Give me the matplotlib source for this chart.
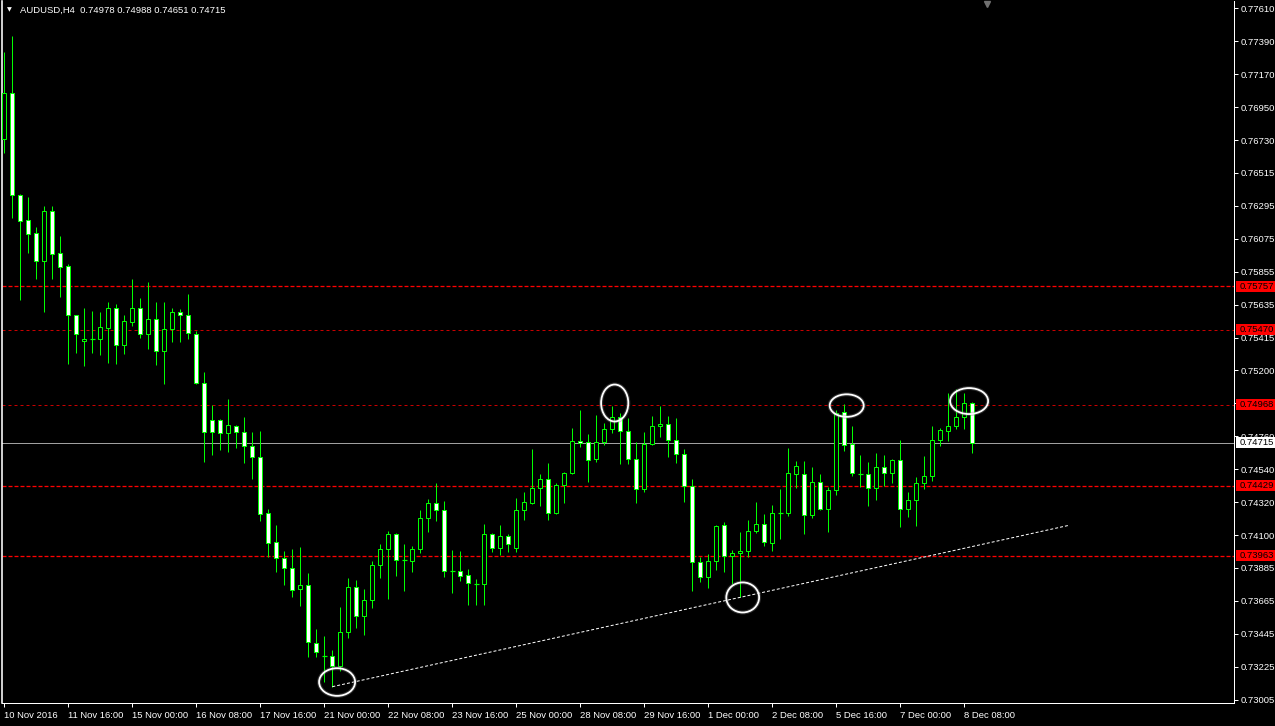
import matplotlib
matplotlib.use('Agg')
import matplotlib.pyplot as plt
import matplotlib.transforms as mtransforms
from matplotlib.patches import Ellipse, Rectangle
import numpy as np

# ---------------- data (AUDUSD H4) ----------------
opens = [0.76736, 0.77042, 0.76364, 0.76197, 0.76111, 0.75928, 0.76257, 0.75978, 0.75891, 0.75565,
         0.75392, 0.75405, 0.75405, 0.75482, 0.75611, 0.75365, 0.75522, 0.75611, 0.75438, 0.75538,
         0.75325, 0.75472, 0.75585, 0.75565, 0.75438, 0.75112, 0.74866, 0.74866, 0.74779, 0.74826,
         0.74786, 0.74693, 0.74620, 0.74247, 0.74054, 0.73947, 0.73881, 0.73741, 0.73768, 0.73382,
         0.73295, 0.73295, 0.73233, 0.73455, 0.73754, 0.73561, 0.73668, 0.73901, 0.74011, 0.74107,
         0.73934, 0.73927, 0.74007, 0.74214, 0.74314, 0.74267, 0.73861, 0.73861, 0.73834, 0.73778,
         0.73774, 0.74107, 0.74016, 0.74096, 0.74016, 0.74267, 0.74314, 0.74413, 0.74473, 0.74247,
         0.74437, 0.74513, 0.74726, 0.74720, 0.74606, 0.74720, 0.74806, 0.74886, 0.74793, 0.74606,
         0.74407, 0.74706, 0.74826, 0.74839, 0.74733, 0.74640, 0.74431, 0.73921, 0.73825, 0.73927,
         0.74167, 0.73961, 0.73981, 0.73994, 0.74127, 0.74174, 0.74047, 0.74247, 0.74247, 0.74507,
         0.74507, 0.74234, 0.74453, 0.74274, 0.74400, 0.74919, 0.74706, 0.74507, 0.74507, 0.74413,
         0.74553, 0.74513, 0.74600, 0.74274, 0.74333, 0.74447, 0.74493, 0.74733, 0.74793, 0.74826,
         0.74886, 0.74978]
highs = [0.77319, 0.77424, 0.76370, 0.76352, 0.76153, 0.76292, 0.76292, 0.76093, 0.75906, 0.75570,
         0.75613, 0.75593, 0.75585, 0.75653, 0.75640, 0.75567, 0.75806, 0.75680, 0.75786, 0.75653,
         0.75653, 0.75613, 0.75607, 0.75707, 0.75460, 0.75187, 0.74968, 0.74875, 0.75008, 0.74835,
         0.74888, 0.74786, 0.74793, 0.74274, 0.74167, 0.73994, 0.74007, 0.74021, 0.73848, 0.73475,
         0.73428, 0.73335, 0.73621, 0.73814, 0.73801, 0.73741, 0.73927, 0.74041, 0.74127, 0.74114,
         0.74041, 0.74027, 0.74267, 0.74340, 0.74447, 0.74327, 0.74001, 0.73994, 0.73874, 0.73808,
         0.74174, 0.74116, 0.74169, 0.74109, 0.74347, 0.74387, 0.74675, 0.74507, 0.74580, 0.74447,
         0.74520, 0.74813, 0.74933, 0.74773, 0.74899, 0.74848, 0.74961, 0.74913, 0.74881, 0.74720,
         0.74786, 0.74895, 0.74961, 0.74893, 0.74881, 0.74673, 0.74473, 0.73958, 0.73976, 0.74169,
         0.74187, 0.74001, 0.74120, 0.74200, 0.74320, 0.74240, 0.74300, 0.74407, 0.74680, 0.74597,
         0.74595, 0.74553, 0.74507, 0.74420, 0.74933, 0.74972, 0.74826, 0.74633, 0.74586, 0.74646,
         0.74633, 0.74606, 0.74733, 0.74387, 0.74487, 0.74626, 0.74826, 0.74813, 0.75046, 0.75072,
         0.75046, 0.74988]
lows = [0.76647, 0.76214, 0.75667, 0.75981, 0.75806, 0.75589, 0.75806, 0.75689, 0.75241, 0.75316,
        0.75229, 0.75316, 0.75301, 0.75249, 0.75241, 0.75307, 0.75496, 0.75414, 0.75341, 0.75234,
        0.75108, 0.75387, 0.75387, 0.75407, 0.75108, 0.74588, 0.74635, 0.74668, 0.74655, 0.74682,
        0.74582, 0.74475, 0.74198, 0.73958, 0.73858, 0.73772, 0.73692, 0.73632, 0.73292, 0.73292,
        0.73126, 0.73093, 0.73199, 0.73419, 0.73485, 0.73439, 0.73619, 0.73818, 0.73679, 0.73832,
        0.73732, 0.73858, 0.73985, 0.74124, 0.74194, 0.73821, 0.73718, 0.73794, 0.73635, 0.73639,
        0.73635, 0.73989, 0.73969, 0.73990, 0.73990, 0.74202, 0.74307, 0.74298, 0.74204, 0.74244,
        0.74318, 0.74507, 0.74686, 0.74457, 0.74586, 0.74700, 0.74779, 0.74573, 0.74573, 0.74314,
        0.74387, 0.74704, 0.74753, 0.74620, 0.74580, 0.74324, 0.73732, 0.73792, 0.73752, 0.73872,
        0.73858, 0.73776, 0.73688, 0.73954, 0.74114, 0.74031, 0.73998, 0.74078, 0.74231, 0.74417,
        0.74111, 0.74218, 0.74270, 0.74124, 0.74367, 0.74660, 0.74497, 0.74424, 0.74298, 0.74337,
        0.74431, 0.74451, 0.74158, 0.74224, 0.74164, 0.74411, 0.74460, 0.74693, 0.74726, 0.74806,
        0.74806, 0.74651]
closes = [0.77042, 0.76364, 0.76195, 0.76108, 0.75928, 0.76257, 0.75975, 0.75888, 0.75565, 0.75438,
          0.75405, 0.75405, 0.75485, 0.75611, 0.75365, 0.75525, 0.75611, 0.75438, 0.75538, 0.75325,
          0.75472, 0.75585, 0.75565, 0.75445, 0.75112, 0.74790, 0.74786, 0.74779, 0.74833, 0.74786,
          0.74693, 0.74620, 0.74244, 0.74051, 0.73947, 0.73881, 0.73734, 0.73768, 0.73388, 0.73322,
          0.73295, 0.73233, 0.73455, 0.73754, 0.73561, 0.73668, 0.73901, 0.74007, 0.74107, 0.73934,
          0.73934, 0.74007, 0.74214, 0.74314, 0.74267, 0.73861, 0.73861, 0.73828, 0.73781, 0.73778,
          0.74107, 0.74016, 0.74096, 0.74040, 0.74267, 0.74320, 0.74413, 0.74473, 0.74247, 0.74433,
          0.74513, 0.74726, 0.74713, 0.74600, 0.74720, 0.74806, 0.74886, 0.74793, 0.74606, 0.74407,
          0.74706, 0.74826, 0.74839, 0.74733, 0.74640, 0.74431, 0.73921, 0.73821, 0.73927, 0.74160,
          0.73961, 0.73981, 0.73994, 0.74127, 0.74174, 0.74054, 0.74247, 0.74247, 0.74513, 0.74560,
          0.74234, 0.74453, 0.74274, 0.74400, 0.74913, 0.74700, 0.74513, 0.74507, 0.74413, 0.74553,
          0.74513, 0.74600, 0.74274, 0.74333, 0.74447, 0.74493, 0.74733, 0.74799, 0.74826, 0.74886,
          0.74979, 0.74715]

x_tick_labels = ['10 Nov 2016', '11 Nov 16:00', '15 Nov 00:00', '16 Nov 08:00', '17 Nov 16:00',
                 '21 Nov 00:00', '22 Nov 08:00', '23 Nov 16:00', '25 Nov 00:00', '28 Nov 08:00',
                 '29 Nov 16:00', '1 Dec 00:00', '2 Dec 08:00', '5 Dec 16:00', '7 Dec 00:00',
                 '8 Dec 08:00']
y_tick_values = [0.77610, 0.77390, 0.77170, 0.76950, 0.76730, 0.76515, 0.76295, 0.76075, 0.75855,
                 0.75635, 0.75415, 0.75200, 0.74980, 0.74760, 0.74540, 0.74320, 0.74100, 0.73885,
                 0.73665, 0.73445, 0.73225, 0.73005]

main_levels = [0.75757, 0.74429, 0.73963]
minor_levels = [0.75470, 0.74968]
current_price = 0.74715
header = 'AUDUSD,H4  0.74978 0.74988 0.74651 0.74715'

trend_bars = [41, 133]
trend_prices = [0.73093, 0.74166]

# ellipses: (bar centre, price centre, width in bars, height in price)
ellipse_bar = [41.6, 76.3, 105.3, 120.6, 92.3]
ellipse_price = [0.73124, 0.74981, 0.74964, 0.74994, 0.73687]
ellipse_w = [4.5, 3.4, 4.25, 4.75, 4.1]
ellipse_h = [0.00184, 0.00246, 0.00150, 0.00173, 0.00200]

# ---------------- figure ----------------
plt.rcParams['lines.scale_dashes'] = False
plt.rcParams['font.family'] = ['Liberation Sans', 'DejaVu Sans']

W, H = 1275, 726
PX = 72 / 100.0
fig = plt.figure(figsize=(W / 100, H / 100), dpi=100, facecolor='black')
L_px, R_px, T_px, B_px = 2, 1234, 1, 703
ax = fig.add_axes([L_px / W, 1 - B_px / H, (R_px - L_px) / W, (B_px - T_px) / H])
ax.set_facecolor('black')

GREEN = '#00ff00'
n = len(opens)
xs = np.arange(n)

# wicks
ax.vlines(xs, lows, highs, colors=GREEN, lw=PX, zorder=3)
# bodies
for i in range(n):
    o, c = opens[i], closes[i]
    if abs(c - o) < 1e-6:
        ax.hlines(o, i - 0.3, i + 0.3, colors=GREEN, lw=PX * 1.2, zorder=4)
    else:
        fc = 'black' if c > o else 'white'
        ax.bar(i, abs(c - o), bottom=min(o, c), width=0.5, facecolor=fc,
               edgecolor=GREEN, lw=PX, zorder=4)

ax.set_xlim((L_px - 4.3) / 8, (R_px - 4.3) / 8)
y_top = 0.75855 + (271.7 - T_px) / 15025
y_bot = 0.75855 - (B_px - 271.7) / 15025
ax.set_ylim(y_bot, y_top)

# level lines
for lev in main_levels:
    ax.axhline(lev, color='#ff0000', lw=1.3 * PX, dashes=(4 * PX, 2 * PX), zorder=2)
for lev in minor_levels:
    ax.axhline(lev, color='#c80000', lw=PX, dashes=(3 * PX, 3 * PX), zorder=2)
ax.axhline(current_price, color='#a0a0a0', lw=PX, zorder=2)

# trendline
ax.plot(trend_bars, trend_prices, color='white', lw=PX, dashes=(3 * PX, 2 * PX), zorder=5)

# ellipses
for bx, by, bw, bh in zip(ellipse_bar, ellipse_price, ellipse_w, ellipse_h):
    ax.add_patch(Ellipse((bx, by), bw, bh, fill=False, ec='#808080', lw=4 * PX, alpha=0.35, zorder=6))
    ax.add_patch(Ellipse((bx, by), bw, bh, fill=False, ec='white', lw=1.8 * PX, zorder=7))

# axes styling
ax.spines['top'].set_visible(False)
for side in ['left', 'right', 'bottom']:
    ax.spines[side].set_color('white')
    ax.spines[side].set_linewidth(PX)
ax.spines['left'].set_linewidth(1.6 * PX)

FS = 6.8
ax.yaxis.tick_right()
ax.set_yticks(y_tick_values)
ax.set_yticklabels([f'{v:.5f}' for v in y_tick_values])
ax.tick_params(axis='y', colors='white', length=4 * PX, width=PX, labelsize=FS, pad=2)
ax.set_xticks(np.arange(0, 8 * len(x_tick_labels), 8))
ax.set_xticklabels(x_tick_labels)
for lbl in ax.get_xticklabels():
    lbl.set_ha('left')
ax.tick_params(axis='x', colors='white', length=4 * PX, width=PX, labelsize=FS, pad=3)

# right-side price labels
bt = mtransforms.blended_transform_factory(fig.transFigure, ax.transData)
box_h = 11 / 15025
labels = [(lev, '#ff0000') for lev in main_levels + minor_levels] + [(current_price, 'white')]
for lev, col in labels:
    ax.add_patch(Rectangle((1236 / W, lev - box_h / 2), 1 - 1236 / W, box_h, transform=bt,
                           facecolor=col, edgecolor='none', clip_on=False, zorder=8))
    ax.text(1240 / W, lev, f'{lev:.5f}', transform=bt, color='black', fontsize=FS,
            va='center', ha='left', clip_on=False, zorder=9)

# header
fig.text(7 / W, 1 - 10 / H, '\u25bc', color='white', fontsize=4.5, va='center', ha='left',
         family=['DejaVu Sans'])
fig.text(20 / W, 1 - 10 / H, header, color='white', fontsize=FS, va='center', ha='left')

# chart shift marker
ax.plot([(987 - L_px) / (R_px - L_px)], [1 - 3 / (B_px - T_px)], marker='v', ms=5, color='#707070',
        transform=ax.transAxes, clip_on=False, zorder=9)

fig.savefig('out.png', dpi=100, facecolor='black')
